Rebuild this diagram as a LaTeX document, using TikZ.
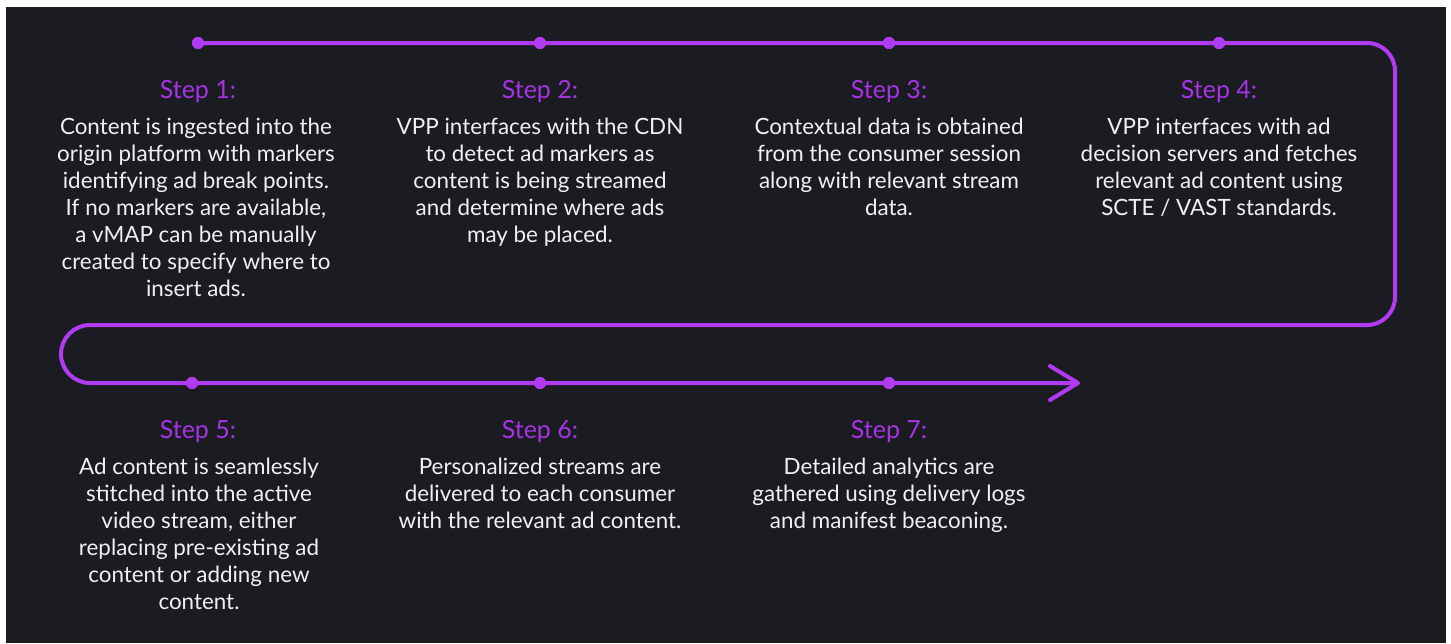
\documentclass[tikz,border=0pt]{standalone}
\usepackage{fontspec}
\setmainfont{Lato}
\usetikzlibrary{arrows.meta}
\definecolor{bg}{HTML}{1B1C22}
\definecolor{vio}{HTML}{B03BF2}
\definecolor{vtxt}{HTML}{A634E6}
\definecolor{txt}{HTML}{F0F0F0}
\begin{document}
\begin{tikzpicture}[x=1pt,y=-1pt,
  dot/.style={circle,fill=vio,inner sep=0pt,minimum size=12pt},
  flow/.style={draw=vio,line width=4pt},
  title/.style={text=vtxt,font=\fontsize{25}{28}\selectfont,inner sep=0pt},
  body/.style={text=txt,font=\fontsize{22.4}{27}\selectfont,align=center,inner sep=0pt,anchor=north}]
\useasboundingbox (0,0) rectangle (1451,643);
\fill[white] (0,0) rectangle (1451,643);
\fill[bg] (6,7) rectangle (1446,643);
% dots
\node[dot] (d1) at (198,43) {};
\node[dot] (d2) at (540,43) {};
\node[dot] (d3) at (889,43) {};
\node[dot] (d4) at (1219,43) {};
\node[dot] (d5) at (192,383) {};
\node[dot] (d6) at (540,383) {};
\node[dot] (d7) at (889,383) {};
\coordinate (c1) at (1395,43);
\coordinate (c2) at (1395,325);
\coordinate (c3) at (90,325);
\coordinate (tip) at (1078,383);
\draw[flow,rounded corners=28pt] (d1.center) -- (d2.center) -- (d3.center) -- (d4.center) -- (c1) -- (c2) -- (c3);
\draw[flow] (c3) arc[start angle=-90,end angle=-270,radius=29] -- (d5.center) -- (d6.center) -- (d7.center) -- (tip);
\draw[flow,line cap=round,line join=round] ([shift={(-28,-17)}]tip) -- (tip) -- ([shift={(-28,17)}]tip);
\foreach \d in {d1,d2,d3,d4,d5,d6,d7} \node[dot] at (\d) {};
% titles
\node[title] (t1) at (198,92) {Step 1:};
\node[title] (t2) at (540,92) {Step 2:};
\node[title] (t3) at (889,92) {Step 3:};
\node[title] (t4) at (1219,92) {Step 4:};
\node[title] (t5) at (198,432) {Step 5:};
\node[title] (t6) at (540,432) {Step 6:};
\node[title] (t7) at (889,432) {Step 7:};
% bodies
\node[body] (b1) at (196,118) {Content is ingested into the\\origin platform with markers\\identifying ad break points.\\If no markers are available,\\a vMAP can be manually\\created to specify where to\\insert ads.};
\node[body] (b2) at (540,118) {VPP interfaces with the CDN\\to detect ad markers as\\content is being streamed\\and determine where ads\\may be placed.};
\node[body] (b3) at (889,118) {Contextual data is obtained\\from the consumer session\\along with relevant stream\\data.};
\node[body] (b4) at (1219,118) {VPP interfaces with ad\\decision servers and fetches\\relevant ad content using\\SCTE / VAST standards.};
\node[body] (b5) at (199,458) {Ad content is seamlessly\\stitched into the active\\video stream, either\\replacing pre-existing ad\\content or adding new\\content.};
\node[body] (b6) at (540,458) {Personalized streams are\\delivered to each consumer\\with the relevant ad content.};
\node[body] (b7) at (889,458) {Detailed analytics are\\gathered using delivery logs\\and manifest beaconing.};
\end{tikzpicture}
\end{document}
